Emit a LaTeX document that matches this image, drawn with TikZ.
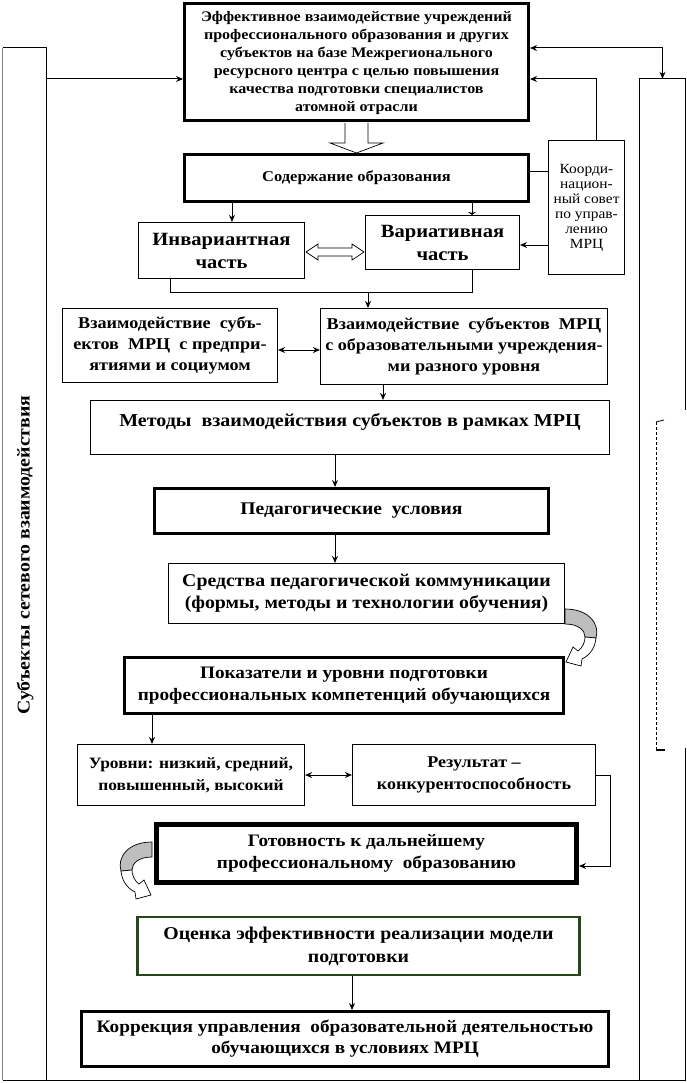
\documentclass[tikz,border=0pt]{standalone}
\usepackage{fontspec}
\setmainfont{Liberation Serif}[FakeStretch=1.1]
\usetikzlibrary{arrows.meta,calc}
\definecolor{ogreen}{RGB}{38,72,24}
\definecolor{bandgray}{RGB}{190,190,190}
\newcommand{\fs}[2]{\fontsize{#1}{#2}\selectfont}
\tikzset{
 box/.style={draw, line width=1.1pt, align=center, inner sep=2pt, font=\bfseries},
 thickbox/.style={box, line width=3pt},
 arr/.style={-{Stealth[length=7pt,width=6pt]}, line width=1pt},
 darr/.style={{Stealth[length=7pt,width=6pt]}-{Stealth[length=7pt,width=6pt]}, line width=1pt},
 plain/.style={line width=1pt},
 hollow/.style={draw, fill=white, line width=0.7pt},
 band/.style={draw, fill=bandgray, line width=0.7pt},
}
\begin{document}
\begin{tikzpicture}[x=1pt,y=-1pt]
\useasboundingbox (0,0) rectangle (687,1083);
\fill[white] (0,0) rectangle (687,1083);

% side columns
\node[minimum width=43, minimum height=1032, inner sep=0] (lc) at (24.5,564) {};
\draw[line width=1pt] (lc.north west) -- (lc.north east) -- (lc.south east) -- (lc.south west);
\draw[gray, line width=1pt] (lc.north west) -- (lc.south west);
\node[rotate=90, font=\bfseries\fs{18}{20}] (lctext) at (25,555) {Субъекты сетевого взаимодействия};

\node[minimum width=45, minimum height=1001, inner sep=0] (rc) at (662.5,579.5) {};
\draw[line width=1pt] (rc.north east |- 0,410) -- (rc.north east) -- (rc.north west) -- (rc.south west) -- (rc.south east) -- (rc.south east |- 0,748);
\draw[line width=1pt] (lc.south east) -- (rc.south west);
\draw[dashed, line width=0.6pt, dash pattern=on 3pt off 2pt] (656,422) -- (656,750);
\draw[line width=0.8pt] (656,422) -- (664,420);
\draw[line width=2pt] (656,750) -- (665,750);

% boxes
\node[thickbox, minimum width=344, minimum height=117, font=\bfseries\fs{14.6}{18}] (top) at (356.5,62.5)
 {Эффективное взаимодействие учреждений\\профессионального образования и других\\субъектов на базе Межрегионального\\ресурсного центра с целью повышения\\качества подготовки специалистов\\атомной отрасли};
\node[thickbox, minimum width=344, minimum height=47, font=\bfseries\fs{15}{17}] (cont) at (356.5,178) {Содержание образования};
\node[box, minimum width=166, minimum height=56, font=\bfseries\fs{18.7}{23}] (inv) at (221.5,250.5) {Инвариантная\\часть};
\node[box, minimum width=154, minimum height=54, font=\bfseries\fs{18.7}{23}] (var) at (442.5,242.5) {Вариативная\\часть};
\node[box, minimum width=76, minimum height=134, font=\fs{14}{15}] (coun) at (586.5,207.5) {Коорди-\\национ-\\ный совет\\по управ-\\лению\\МРЦ};
\node[box, minimum width=215, minimum height=74, font=\bfseries\fs{16.5}{21}] (lint) at (170,345.5) {Взаимодействие \ субъ-\\ектов \ МРЦ \ с предпри-\\ятиями и социумом};
\node[box, minimum width=287, minimum height=76, font=\bfseries\fs{16.5}{21}] (rint) at (464,346.5) {Взаимодействие \ субъектов \ МРЦ\\с образовательными учреждения-\\ми разного уровня};
\node[box, minimum width=519, minimum height=54, text depth=16pt, font=\bfseries\fs{18.2}{21}] (meth) at (350,427.5) {Методы \ взаимодействия субъектов в рамках МРЦ};
\node[thickbox, minimum width=394, minimum height=45, font=\bfseries\fs{17.8}{21}] (ped) at (351.5,511) {Педагогические \ условия};
\node[box, minimum width=396, minimum height=60, font=\bfseries\fs{18}{22}] (sred) at (366.5,593.5) {Средства педагогической коммуникации\\(формы, методы и технологии обучения)};
\node[thickbox, minimum width=439, minimum height=56, font=\bfseries\fs{17.5}{22}] (pokaz) at (344,685.5) {Показатели и уровни подготовки\\профессиональных компетенций обучающихся};
\node[box, minimum width=227, minimum height=61, font=\bfseries\fs{15.8}{22}] (urov) at (191,775) {Уровни: низкий, средний,\\повышенный, высокий};
\node[box, minimum width=243, minimum height=61, font=\bfseries\fs{16.4}{22}] (rez) at (474,775) {Результат –\\конкурентоспособность};
\node[box, line width=5pt, minimum width=420, minimum height=58, font=\bfseries\fs{17.5}{22}] (gotov) at (366.5,853) {Готовность к дальнейшему\\профессиональному \ образованию};
\node[box, draw=ogreen, line width=2.5pt, minimum width=442, minimum height=58, font=\bfseries\fs{18}{23}] (ocen) at (358.5,946) {Оценка эффективности реализации модели\\подготовки};
\node[thickbox, minimum width=527, minimum height=55, font=\bfseries\fs{17.5}{21}] (korr) at (345,1039) {Коррекция управления \ образовательной деятельностью\\обучающихся в условиях МРЦ};

% connectors
\draw[arr] (lc.east |- 0,79) -- (top.west |- 0,79);
\draw[darr] (top.east |- 0,48) -| (rc.north);
\draw[arr] ([xshift=10pt]coun.north) |- (top.east |- 0,79);
\draw[plain] (coun.west |- 0,172) -- (cont.east |- 0,172);
\draw[arr] (coun.west |- 0,245) -- (var.east |- 0,245);
\draw[arr] (cont.south -| 232,0) -- (inv.north -| 232,0);
\draw[plain, -{Stealth[length=3pt,width=8pt]}] (cont.south -| 472,0) -- (var.north -| 472,0);
\draw[plain] (inv.south -| 170,0) -- (170,292) -- (472,292) -- (var.south -| 472,0);
\coordinate (br) at (368,292);
\draw[arr] (br) -- (rint.north -| br);
\draw[darr] (lint.east |- 0,350) -- (rint.west |- 0,350);
\draw[arr] (rint.south -| 383,0) -- (meth.north -| 383,0);
\draw[arr] (meth.south -| 335,0) -- (ped.north -| 335,0);
\draw[arr] (ped.south -| 335,0) -- (sred.north -| 335,0);
\draw[arr] (pokaz.south -| 152,0) -- (urov.north -| 152,0);
\draw[darr] (urov.east) -- (rez.west);
\draw[arr] (rez.east) -- (610,775) |- (gotov.east |- 0,866);
\draw[arr] (ocen.south -| 352,0) -- (korr.north -| 352,0);

% hollow block arrows
\draw[hollow] (345,123) -- (345,143) -- (330,143) -- (356.5,153) -- (383,143) -- (368,143) -- (368,123);
\draw[hollow] (306,252) -- (318,244) -- (318,248) -- (352,248) -- (352,244) -- (364,252) -- (352,260) -- (352,256) -- (318,256) -- (318,260) -- cycle;

% curved arrows
\draw[band] (565,609) .. controls (590,609) and (600,625) .. (596,638) -- (585,637) .. controls (585,630) and (578,624) .. (565,624) -- cycle;
\draw[hollow] (596,638) .. controls (595,648) and (590,655) .. (582,659) -- (581,666) -- (566,662) -- (573,647) -- (578,651) .. controls (583,647) and (585,642) .. (585,637) -- cycle;
\draw[band] (152,842) .. controls (127,842) and (117,858) .. (121,871) -- (132,870) .. controls (132,863) and (139,857) .. (152,857) -- cycle;
\draw[hollow] (121,871) .. controls (122,881) and (127,888) .. (135,892) -- (136,899) -- (151,895) -- (144,880) -- (139,884) .. controls (134,880) and (132,875) .. (132,870) -- cycle;
\end{tikzpicture}
\end{document}
